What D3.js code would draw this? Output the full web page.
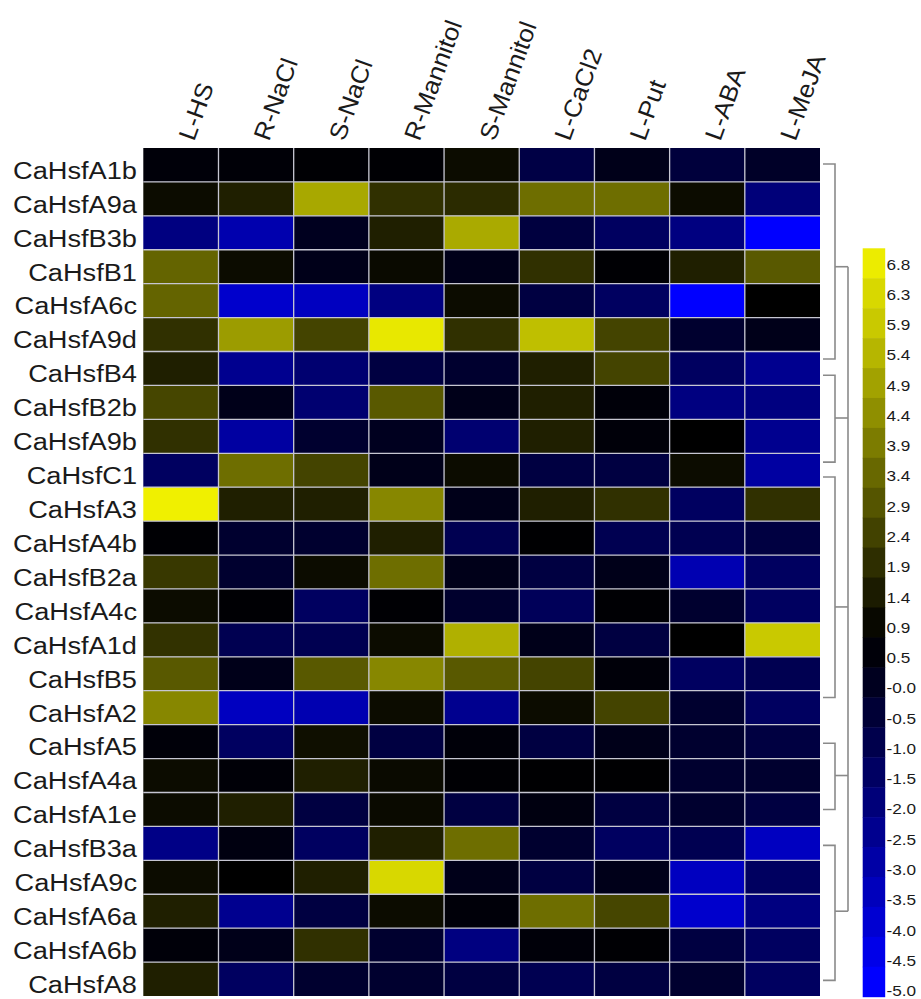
<!DOCTYPE html>
<html>
<head>
<meta charset="utf-8">
<script src="https://cdn.jsdelivr.net/npm/d3@7"></script>
<style>
  html, body { margin: 0; padding: 0; background: #ffffff; }
  svg { display: block; }
  text { font-family: "Liberation Sans", Arial, sans-serif; fill: #1a1a1a; }
</style>
</head>
<body>
<svg id="chart" width="921" height="999"></svg>
<script>
// ---------------- DATA ----------------
const conditions = ["L-HS", "R-NaCl", "S-NaCl", "R-Mannitol", "S-Mannitol", "L-CaCl2", "L-Put", "L-ABA", "L-MeJA"];
const genes = ["CaHsfA1b", "CaHsfA9a", "CaHsfB3b", "CaHsfB1", "CaHsfA6c", "CaHsfA9d", "CaHsfB4",
  "CaHsfB2b", "CaHsfA9b", "CaHsfC1", "CaHsfA3", "CaHsfA4b", "CaHsfB2a", "CaHsfA4c", "CaHsfA1d",
  "CaHsfB5", "CaHsfA2", "CaHsfA5", "CaHsfA4a", "CaHsfA1e", "CaHsfB3a", "CaHsfA9c", "CaHsfA6a",
  "CaHsfA6b", "CaHsfA8"];

// one series per condition, values in gene order
const LHS       = [0.5, 1.0, -2.15, 3.3, 3.3, 1.95, 1.5, 2.5, 1.95, -1.45, 6.9, 0.6, 2.15, 1.0, 2.0, 3.0, 4.2, 0.5, 1.0, 1.0, -2.3, 1.0, 1.5, 0.5, 1.5];
const RNaCl     = [0.55, 1.5, -3.2, 1.0, -3.85, 4.75, -2.5, 0.15, -2.9, 3.55, 1.5, -0.35, -0.35, 0.6, -1.1, 0.15, -3.6, -1.45, 0.55, 1.5, 0.35, 0.7, -2.5, 0.15, -1.45];
const SNaCl     = [0.6, 5.05, 0.0, 0.15, -3.6, 2.45, -1.8, -1.8, -0.35, 2.45, 1.5, -0.35, 1.0, -1.45, -1.1, 3.0, -3.25, 1.1, 1.5, -0.75, -1.45, 1.5, -0.75, 1.95, -0.35];
const RMannitol = [0.62, 1.95, 1.5, 0.95, -2.15, 6.7, -0.75, 3.0, 0.0, 0.15, 4.2, 1.5, 3.55, 0.6, 1.0, 4.2, 1.0, -0.75, 0.95, 0.95, 1.5, 6.3, 1.0, -0.35, -0.35];
const SMannitol = [1.0, 1.8, 5.1, 0.15, 1.0, 1.95, -0.35, 0.15, -1.8, 1.0, 0.15, -1.1, 0.15, -0.3, 5.25, 3.0, -2.5, 0.5, 0.6, -0.75, 3.55, 0.15, 0.5, -2.15, -0.75];
const LCaCl2    = [-0.85, 3.55, -0.7, 1.95, -0.75, 5.65, 1.5, 1.5, 1.5, -0.75, 1.5, 0.65, -0.75, -1.3, 0.15, 2.45, 1.0, -0.75, 0.65, 0.35, -0.35, -0.75, 3.55, 0.5, -1.1];
const LPut      = [0.15, 3.55, -1.45, 0.6, -1.45, 2.45, 2.45, 0.5, 0.5, -0.75, 1.95, -1.1, 0.15, 0.6, -0.75, 0.5, 2.45, 0.15, 0.65, -0.75, -1.45, 0.15, 2.5, 0.6, -0.75];
const LABA      = [-0.65, 1.0, -2.15, 1.5, -5.0, -0.35, -1.45, -2.15, 0.7, 1.0, -1.45, -1.1, -3.25, -0.35, 0.7, -1.45, -0.35, -0.35, -0.35, -0.35, -1.1, -3.6, -3.85, -0.75, -0.35];
const LMeJA     = [-0.2, -2.0, -5.0, 3.0, 0.7, 0.15, -2.5, -2.15, -2.5, -2.9, 1.95, -0.75, -1.45, -1.45, 5.9, -1.1, -1.45, -0.75, -0.35, -0.75, -3.6, -1.45, -2.15, -1.45, -1.45];
const series = [LHS, RNaCl, SNaCl, RMannitol, SMannitol, LCaCl2, LPut, LABA, LMeJA];

// legend tick labels (top to bottom)
const legendLabels = ["6.8", "6.3", "5.9", "5.4", "4.9", "4.4", "3.9", "3.4", "2.9", "2.4", "1.9", "1.4",
  "0.9", "0.5", "-0.0", "-0.5", "-1.0", "-1.5", "-2.0", "-2.5", "-3.0", "-3.5", "-4.0", "-4.5", "-5.0"];

// cluster brackets on the right (in row units: top, bottom, join)
const clusterTop    = [0.47, 6.7, 9.7, 17.55, 20.56];
const clusterBottom = [6.22, 9.26, 16.2, 19.5, 24.54];
const clusterJoin   = [3.5, 7.96, 13.53, 18.5, 22.5];

// ---------------- CHART ----------------
const svg = d3.select("#chart");

const x = d3.scaleBand().domain(conditions).range([143.3, 820]).padding(0);
const y = d3.scaleBand().domain(genes).range([148, 996]).padding(0);
const rowUnit = d3.scaleLinear().domain([0, genes.length]).range([148, 996]);

const color = d3.scaleLinear()
  .domain([-5, 0.7, 7.3])
  .range(["#0000ff", "#000000", "#ffff00"])
  .clamp(true);

const cells = [];
conditions.forEach((c, ci) => {
  genes.forEach((g, gi) => cells.push({ c, g, v: series[ci][gi] }));
});

svg.append("g").selectAll("rect").data(cells).join("rect")
  .attr("x", d => x(d.c))
  .attr("y", d => y(d.g))
  .attr("width", x.bandwidth())
  .attr("height", y.bandwidth())
  .attr("fill", d => color(d.v));

// grid lines between cells
const grid = svg.append("g").attr("stroke", "#c6c6d2").attr("stroke-width", 1.3);
conditions.slice(1).forEach(c => {
  grid.append("line").attr("x1", x(c)).attr("x2", x(c)).attr("y1", 148).attr("y2", 996);
});
genes.slice(1).forEach(g => {
  grid.append("line").attr("x1", 143.3).attr("x2", 820).attr("y1", y(g)).attr("y2", y(g));
});

// row labels
const SX = 1.11;
svg.append("g").selectAll("text").data(genes).join("text")
  .attr("transform", d => `translate(137,${y(d) + y.bandwidth() / 2 + 5}) scale(${SX},1)`)
  .attr("text-anchor", "end")
  .attr("dy", "0.36em")
  .style("font-size", "24.5px")
  .text(d => d);

// column labels (rotated, slightly widened along the baseline)
svg.append("g").selectAll("text").data(conditions).join("text")
  .attr("transform", d => `translate(${x(d) + x.bandwidth() / 2 + 13},142) rotate(-70) scale(1.06,1)`)
  .attr("text-anchor", "start")
  .style("font-size", "24.5px")
  .text(d => d);

// cluster brackets
const dend = svg.append("g").attr("stroke", "#8a8a8a").attr("stroke-width", 1.6).attr("fill", "none");
const xStub = 823, xInner = 835, xOuter = 848;
clusterTop.forEach((t, i) => {
  const yt = rowUnit(t), yb = rowUnit(clusterBottom[i]), yj = rowUnit(clusterJoin[i]);
  dend.append("path").attr("d", `M${xStub},${yt}H${xInner}V${yb}H${xStub}`);
  dend.append("path").attr("d", `M${xInner},${yj}H${xOuter}`);
});
dend.append("path").attr("d",
  `M${xOuter},${rowUnit(d3.min(clusterJoin))}V${rowUnit(d3.max(clusterJoin))}`);

// colour legend
const ly = d3.scaleBand().domain(d3.range(legendLabels.length)).range([248.3, 996.7]);
const lg = svg.append("g");
lg.selectAll("rect").data(legendLabels).join("rect")
  .attr("x", 862.7)
  .attr("y", (d, i) => ly(i))
  .attr("width", 22.5)
  .attr("height", ly.bandwidth() + 0.5)
  .attr("fill", d => color(parseFloat(d)));
const lty = d3.scaleLinear().domain([0, legendLabels.length - 1]).range([264, 990.5]);
lg.selectAll("text").data(legendLabels).join("text")
  .attr("transform", (d, i) => `translate(886.5,${lty(i)}) scale(${SX},1)`)
  .attr("dy", "0.36em")
  .style("font-size", "15.5px")
  .text(d => d);
</script>
</body>
</html>
